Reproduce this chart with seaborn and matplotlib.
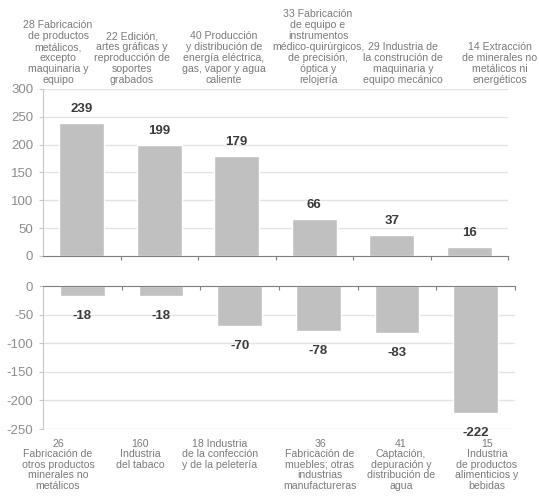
import matplotlib
matplotlib.use("Agg")
import matplotlib.pyplot as plt
import matplotlib.transforms as mtransforms
import seaborn as sns
import pandas as pd
import numpy as np

top_labels = [
    "28 Fabricación\nde productos\nmetálicos,\nexcepto\nmaquinaria y\nequipo",
    "22 Edición,\nartes gráficas y\nreproducción de\nsoportes\ngrabados",
    "40 Producción\ny distribución de\nenergía eléctrica,\ngas, vapor y agua\ncaliente",
    "33 Fabricación\nde equipo e\ninstrumentos\nmédico-quirúrgicos,\nde precisión,\nóptica y\nrelojería",
    "29 Industria de\nla construción de\nmaquinaria y\nequipo mecánico",
    "14 Extracción\nde minerales no\nmetálicos ni\nenergéticos",
]
top_values = [239, 199, 179, 66, 37, 16]

bottom_labels = [
    "26\nFabricación de\notros productos\nminerales no\nmetálicos",
    "160\nIndustria\ndel tabaco",
    "18 Industria\nde la confección\ny de la peletería",
    "36\nFabricación de\nmuebles; otras\nindustrias\nmanufactureras",
    "41\nCaptación,\ndepuración y\ndistribución de\nagua",
    "15\nIndustria\nde productos\nalimenticios y\nbebidas",
]
bottom_values = [-18, -18, -70, -78, -83, -222]

top_ticks = [0, 50, 100, 150, 200, 250, 300]
bottom_ticks = [0, -50, -100, -150, -200, -250]

# layout: horizontal centres (pixels) of the category text boxes
top_label_px = [58, 132, 224, 318, 403, 500]
bottom_label_px = [58, 140, 220, 320, 401, 487]

sns.set_style("white")
plt.rcParams["font.family"] = ["Liberation Sans", "DejaVu Sans"]

BAR = "#c0c0c0"
GRID = "#e3e3e3"
SPINE_L = "#c8c8c8"
AXIS0 = "#7f7f7f"
TICKC = "#8c8c8c"
CATC = "#7a7a7a"
VALC = "#3a3a3a"

fig = plt.figure(figsize=(5.39, 4.98), dpi=100)
W, H = 539, 498
ax1 = fig.add_axes([43 / W, 1 - 256 / H, (508 - 43) / W, (256 - 89) / H])
ax2 = fig.add_axes([43 / W, 1 - 429 / H, (515 - 43) / W, (429 - 286) / H])

df1 = pd.DataFrame({"cat": [str(i) for i in range(6)], "val": top_values})
df2 = pd.DataFrame({"cat": [str(i) for i in range(6)], "val": bottom_values})

sns.barplot(data=df1, x="cat", y="val", color=BAR, saturation=1, width=0.58, ax=ax1)
sns.barplot(data=df2, x="cat", y="val", color=BAR, saturation=1, width=0.57, ax=ax2)

for ax, ticks, lim in [(ax1, top_ticks, (0, 300)), (ax2, bottom_ticks, (-250, 0))]:
    ax.set_ylim(*lim)
    ax.set_xlim(-0.5, 5.5)
    ax.set_yticks(ticks)
    ax.set_yticklabels([str(t) for t in ticks], fontsize=9.5, color=TICKC)
    ax.set_xticks([])
    ax.set_xlabel("")
    ax.set_ylabel("")
    ax.tick_params(axis="y", length=3, color=SPINE_L, pad=4, left=True)
    for t in ticks:
        if t != 0:
            ax.axhline(t, color=GRID, lw=1, zorder=0)
    ax.spines["right"].set_visible(False)
    ax.spines["left"].set_color(SPINE_L)
    ax.set_xticks([0.5, 1.5, 2.5, 3.5, 4.5, 5.5], minor=True)
    ax.tick_params(axis="x", which="minor", length=3, color=AXIS0, width=0.8)

ax1.spines["top"].set_visible(False)
ax1.spines["bottom"].set_color(AXIS0)
ax1.tick_params(axis="x", which="minor", direction="out", bottom=True)
ax2.spines["bottom"].set_visible(False)
ax2.spines["top"].set_color(AXIS0)
ax2.tick_params(axis="x", which="minor", direction="in", top=True, bottom=False)

for lab, px in zip(top_labels, top_label_px):
    fig.text(px / W, 1 - 85 / H, lab, ha="center", va="bottom", fontsize=7.6,
             color=CATC, linespacing=1.12, multialignment="center")
for i, v in enumerate(top_values):
    ax1.annotate(str(v), (i, v), xytext=(0, 6), textcoords="offset points",
                 ha="center", va="bottom", fontsize=9.5, fontweight="bold", color=VALC)

for lab, px in zip(bottom_labels, bottom_label_px):
    fig.text(px / W, 1 - 439 / H, lab, ha="center", va="top", fontsize=7.6,
             color=CATC, linespacing=1.06, multialignment="center")
for i, v in enumerate(bottom_values):
    ax2.annotate(str(v), (i, v), xytext=(0, -10), textcoords="offset points",
                 ha="center", va="top", fontsize=9.5, fontweight="bold", color=VALC)

fig.savefig("out.png", dpi=100)
